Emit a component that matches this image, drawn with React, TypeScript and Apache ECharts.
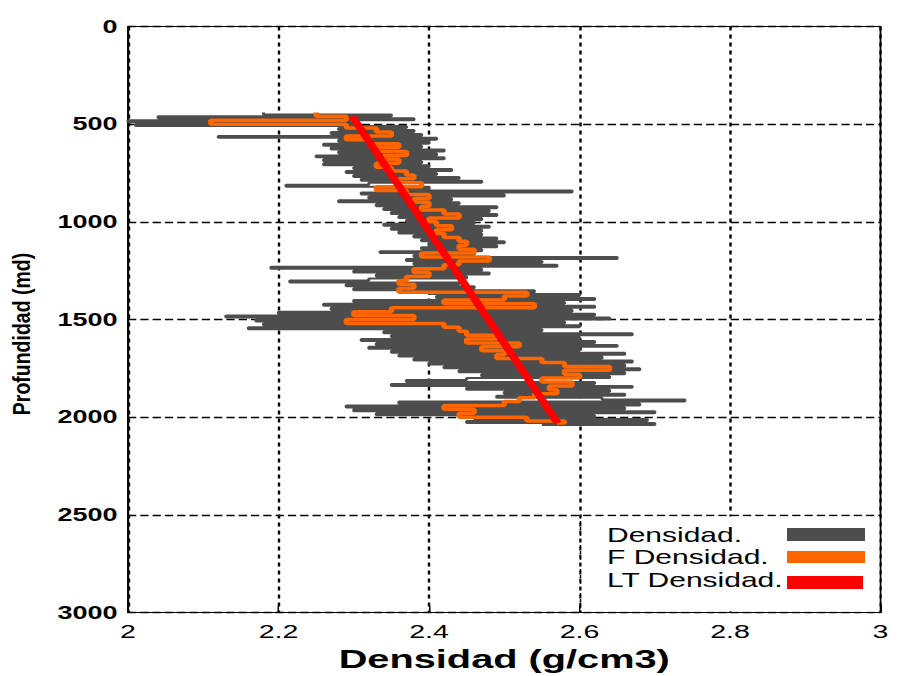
import React, { useEffect, useRef } from "react";
import * as echarts from "echarts";

// ---------------- data ----------------
// Raw density log (g/cm3), sampled every 10 m starting at 440 m
const densityStartDepth = 440;
const densityStep = 10;
const densityValues = [
  2.18, 2.35, 2.04, 2.38, 2.0, 2.3, 2.01, 2.37, 2.28, 2.38,
  2.27, 2.39, 2.12, 2.41, 2.28, 2.4, 2.26, 2.39, 2.27, 2.42,
  2.28, 2.41, 2.25, 2.42, 2.26, 2.39, 2.26, 2.4, 2.3, 2.43,
  2.29, 2.41, 2.3, 2.44, 2.31, 2.47, 2.32, 2.21, 2.4, 2.33,
  2.59, 2.31, 2.5, 2.32, 2.43, 2.28, 2.44, 2.33, 2.49, 2.34,
  2.48, 2.35, 2.49, 2.36, 2.47, 2.37, 2.46, 2.34, 2.48, 2.35,
  2.47, 2.36, 2.47, 2.38, 2.49, 2.39, 2.5, 2.4, 2.49, 2.39,
  2.47, 2.335, 2.46, 2.38, 2.65, 2.37, 2.55, 2.38, 2.57, 2.19,
  2.47, 2.3, 2.48, 2.33, 2.45, 2.32, 2.215, 2.44, 2.29, 2.46,
  2.3, 2.54, 2.4, 2.6, 2.41, 2.62, 2.3, 2.58, 2.26, 2.62,
  2.27, 2.59, 2.2, 2.62, 2.13, 2.64, 2.17, 2.58, 2.18, 2.6,
  2.16, 2.55, 2.34, 2.67, 2.35, 2.6, 2.31, 2.62, 2.33, 2.65,
  2.32, 2.6, 2.35, 2.66, 2.36, 2.63, 2.38, 2.67, 2.4, 2.66,
  2.42, 2.68, 2.44, 2.66, 2.47, 2.64, 2.45, 2.37, 2.62, 2.35,
  2.67, 2.45, 2.64, 2.5, 2.66, 2.49, 2.63, 2.74, 2.36, 2.68,
  2.29, 2.66, 2.3, 2.7, 2.33, 2.62, 2.46, 2.69, 2.45, 2.7, 2.55,
];

// Filtered density [value, depth]
const filteredDensity: [number, number][] = [
  [2.25, 440], [2.29, 460], [2.11, 480], [2.29, 500], [2.33, 520], [2.35, 540],
  [2.29, 560], [2.32, 580], [2.36, 600], [2.33, 620], [2.37, 640], [2.34, 660],
  [2.36, 680], [2.33, 700], [2.35, 720], [2.37, 740], [2.38, 760], [2.36, 780],
  [2.39, 800], [2.33, 820], [2.37, 840], [2.4, 860], [2.38, 880], [2.4, 900],
  [2.39, 920], [2.42, 940], [2.44, 960], [2.4, 980], [2.41, 1000], [2.43, 1020],
  [2.41, 1040], [2.42, 1060], [2.44, 1080], [2.45, 1100], [2.44, 1120], [2.46, 1140],
  [2.39, 1160], [2.48, 1180], [2.44, 1200], [2.42, 1220], [2.38, 1240], [2.4, 1260],
  [2.37, 1280], [2.36, 1300], [2.38, 1320], [2.36, 1340], [2.53, 1360], [2.5, 1380],
  [2.42, 1400], [2.54, 1420], [2.35, 1440], [2.3, 1460], [2.38, 1480], [2.29, 1500],
  [2.42, 1520], [2.44, 1540], [2.45, 1560], [2.49, 1580], [2.45, 1600], [2.52, 1620],
  [2.47, 1640], [2.5, 1660], [2.49, 1680], [2.55, 1700], [2.58, 1720], [2.64, 1740],
  [2.58, 1760], [2.6, 1780], [2.55, 1800], [2.59, 1820], [2.56, 1840], [2.57, 1860],
  [2.54, 1880], [2.52, 1900], [2.5, 1920], [2.42, 1940], [2.46, 1960], [2.44, 1980],
  [2.53, 2000], [2.58, 2020], [2.57, 2030],
];

// Linear trend [value, depth]
const trendDensity: [number, number][] = [
  [2.298, 460],
  [2.571, 2030],
];

const seriesNames = ["Densidad.", "F Densidad.", "LT Densidad."];
const seriesColors = ["#4d4d4d", "#ff6600", "#ff0000"];

// ---------------- layout ----------------
const S = 1.5; // the reference raster is stretched horizontally
const W = 598;
const H = 676;
const FONT = "'Liberation Sans', Arial, sans-serif";
const cx = (px: number) => px / S; // css px -> chart px (horizontal)

export default function App() {
  const ref = useRef<HTMLDivElement>(null);

  useEffect(() => {
    if (!ref.current) return;
    const chart = echarts.init(ref.current, null, { renderer: "svg" });

    const rawData = densityValues.map((v, i) => [v, densityStartDepth + i * densityStep]);

    const legendY = [535, 557, 580];
    const swatch = [
      { y: 528, h: 13, w: cx(865) - cx(787) },
      { y: 551, h: 12, w: cx(865) - cx(787) },
      { y: 576, h: 13, w: cx(863) - cx(787) },
    ];

    chart.setOption({
      animation: false,
      backgroundColor: "#fff",
      grid: {
        left: cx(128),
        right: W - cx(880.5),
        top: 26.5,
        bottom: H - 612.5,
        containLabel: false,
        outerBoundsMode: "none",
        show: true,
        borderColor: "#000",
        borderWidth: 1.2,
      },
      xAxis: {
        type: "value",
        min: 2,
        max: 3,
        interval: 0.2,
        axisLine: { show: true, onZero: false, lineStyle: { color: "#000", width: 1.2 } },
        axisTick: { show: true, inside: true, length: 7, lineStyle: { color: "#000", width: 1 } },
        axisLabel: { color: "#000", fontSize: 19, fontFamily: FONT, margin: 9 },
        splitLine: { show: true, lineStyle: { color: "#000", type: [4, 4], width: 1.6 } },
        name: "Densidad (g/cm3)",
        nameLocation: "middle",
        nameGap: 33,
        nameTextStyle: { fontSize: 26.5, fontWeight: "bold", color: "#000", fontFamily: FONT },
      },
      yAxis: {
        type: "value",
        min: 0,
        max: 3000,
        interval: 500,
        inverse: true,
        axisLine: { show: true, onZero: false, lineStyle: { color: "#000", width: 1.2 } },
        axisTick: { show: true, inside: true, length: 4, lineStyle: { color: "#000", width: 1 } },
        axisLabel: {
          color: "#000",
          fontSize: 18,
          fontWeight: "bold",
          fontFamily: FONT,
          margin: 7,
          formatter: (v: number) => String(v),
        },
        splitLine: { show: true, lineStyle: { color: "#000", type: [5.5, 2.7], width: 1.4 } },
      },
      series: [
        {
          name: seriesNames[0],
          type: "line",
          data: rawData,
          step: "start",
          symbol: "none",
          z: 2,
          lineStyle: { color: seriesColors[0], width: 2 },
        },
        {
          name: seriesNames[1],
          type: "line",
          data: filteredDensity,
          step: "start",
          symbol: "none",
          z: 3,
          lineStyle: { color: seriesColors[1], width: 3.5 },
        },
        {
          name: seriesNames[2],
          type: "line",
          data: trendDensity,
          symbol: "none",
          z: 4,
          lineStyle: { color: seriesColors[2], width: 5.5 },
        },
      ],
      graphic: [
        {
          type: "text",
          x: cx(22),
          y: 334,
          rotation: Math.PI / 2,
          scaleY: 1.2 / S,
          style: {
            text: "Profundidad (md)",
            font: `bold 19.5px ${FONT}`,
            fill: "#000",
            align: "center",
            verticalAlign: "middle",
          },
        },
        {
          type: "rect",
          z: 100,
          shape: { x: cx(581.5), y: 516.5, width: cx(879.3) - cx(581.5), height: 95 },
          style: { fill: "#fff" },
        },
        {
          type: "line",
          z: 101,
          shape: { x1: cx(580.5), y1: 515, x2: cx(580.5), y2: 612 },
          style: { stroke: "#000", lineWidth: 1, lineDash: [3, 3] },
        },
        ...seriesNames.map((name, i) => ({
          type: "text",
          z: 102,
          x: cx(607),
          y: legendY[i],
          style: {
            text: name,
            font: `20px ${FONT}`,
            fill: "#000",
            align: "left",
            verticalAlign: "middle",
          },
        })),
        ...seriesColors.map((color, i) => ({
          type: "rect",
          z: 102,
          shape: { x: cx(787), y: swatch[i].y, width: swatch[i].w, height: swatch[i].h },
          style: { fill: color },
        })),
      ],
    });

    return () => chart.dispose();
  }, []);

  return (
    <div
      ref={ref}
      style={{
        position: "absolute",
        left: 0,
        top: 0,
        width: W,
        height: H,
        transform: `scaleX(${S})`,
        transformOrigin: "0 0",
      }}
    />
  );
}
